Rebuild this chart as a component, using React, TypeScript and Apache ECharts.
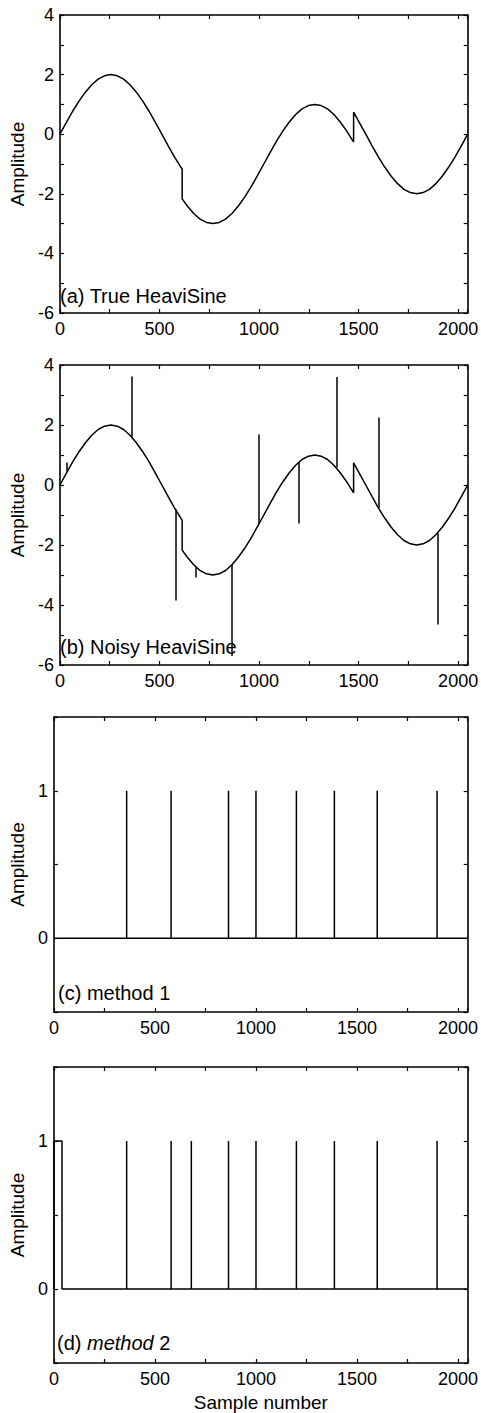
import React, { useEffect, useRef } from "react";
import * as echarts from "echarts";

// ---- data ----
const X_MAX = 2048;
const xTickLabels = [0, 500, 1000, 1500, 2000];
const heaviSineSamples = [
  0, 32, 64, 96, 128, 160, 192, 224, 256, 288, 320, 352, 384, 416, 448, 480, 512, 544, 576, 608,
  614, 614, 640, 672, 704, 736, 768, 800, 832, 864, 896, 928, 960, 992, 1024, 1056, 1088, 1120,
  1152, 1184, 1216, 1248, 1280, 1312, 1344, 1376, 1408, 1440, 1472, 1475, 1475, 1504, 1536, 1568,
  1600, 1632, 1664, 1696, 1728, 1760, 1792, 1824, 1856, 1888, 1920, 1952, 1984, 2016, 2048,
];
const heaviSineValues = [
  0, 0.39, 0.77, 1.11, 1.41, 1.66, 1.85, 1.96, 2.0, 1.96, 1.85, 1.66, 1.41, 1.11, 0.77, 0.39, 0,
  -0.39, -0.77, -1.11, -1.17, -2.17, -2.41, -2.66, -2.85, -2.96, -3.0, -2.96, -2.85, -2.66, -2.41,
  -2.11, -1.77, -1.39, -1.0, -0.61, -0.23, 0.11, 0.41, 0.66, 0.85, 0.96, 1.0, 0.96, 0.85, 0.66,
  0.41, 0.11, -0.23, -0.26, 0.74, 0.39, 0, -0.39, -0.77, -1.11, -1.41, -1.66, -1.85, -1.96, -2.0,
  -1.96, -1.85, -1.66, -1.41, -1.11, -0.77, -0.39, 0,
];
const noiseSamples = [36, 360, 580, 680, 864, 1000, 1200, 1388, 1600, 1896];
const noiseBase = [0.44, 1.61, -0.81, -2.71, -2.66, -1.29, 0.76, 0.58, -0.77, -1.61];
const noiseTip = [0.75, 3.62, -3.85, -3.08, -5.7, 1.68, -1.28, 3.6, 2.25, -4.65];
const method1Spans: [number, number][] = [
  [360, 360], [580, 580], [864, 864], [1000, 1000], [1200, 1200], [1388, 1388], [1600, 1600], [1896, 1896],
];
const method2Spans: [number, number][] = [
  [0, 40], [360, 360], [580, 580], [680, 680], [864, 864], [1000, 1000], [1200, 1200], [1388, 1388], [1600, 1600], [1896, 1896],
];
const panelLabels = ["(a) True HeaviSine", "(b) Noisy HeaviSine", "(c) method 1", "(d) {i|method} 2"];

const FONT = '"Liberation Sans", Arial, Helvetica, sans-serif';
const BLACK = "#000";

const grids = [
  { left: 53, top: 15, width: 417, height: 298 },
  { left: 53, top: 365, width: 417, height: 300 },
  { left: 51, top: 717, width: 419, height: 295 },
  { left: 50, top: 1067, width: 418, height: 296 },
];
const labelTops = [286, 637, 983, 1333];
const nameGaps = [28, 28, 18, 21];

function App() {
  const ref = useRef<HTMLDivElement>(null);
  useEffect(() => {
    if (!ref.current) return;
    const chart = echarts.init(ref.current, null, { renderer: "svg" });

    const curve = heaviSineSamples.map((x, i) => [x, heaviSineValues[i]]);
    const spikes = noiseSamples.map((x, i) => ({ coords: [[x, noiseBase[i]], [x, noiseTip[i]]] }));
    const stepData = (spans: [number, number][]) => {
      const d: number[][] = [[0, 0]];
      spans.forEach(([a, b]) => {
        d.push([a, 0], [a, 1], [b, 1], [b, 0]);
      });
      d.push([X_MAX, 0]);
      return d;
    };

    const axisLine = { onZero: false, lineStyle: { color: BLACK, width: 1.6 } };
    const axisTick = { inside: true, length: 4, lineStyle: { color: BLACK, width: 1.2 } };
    const labelStyle = { color: BLACK, fontFamily: FONT, fontSize: 18 };

    const xAxis: any[] = [];
    const yAxis: any[] = [];
    grids.forEach((_, g) => {
      const base = { type: "value", gridIndex: g, min: 0, max: X_MAX, interval: 250, axisLine, axisTick, splitLine: { show: false } };
      xAxis.push({
        ...base,
        position: "bottom",
        axisLabel: {
          ...labelStyle,
          margin: 7,
          formatter: (v: number) => (xTickLabels.includes(v) ? String(v) : ""),
        },
        ...(g === 3
          ? { name: "Sample number", nameLocation: "middle", nameGap: 30, nameTextStyle: { color: BLACK, fontFamily: FONT, fontSize: 19 } }
          : {}),
      });
      xAxis.push({ ...base, position: "top", axisLabel: { show: false } });
      const yb =
        g < 2
          ? { min: -6, max: 4, interval: 1, fmt: (v: number) => (v % 2 === 0 ? String(v) : "") }
          : { min: -0.5, max: 1.5, interval: 0.5, fmt: (v: number) => (v === 0 || v === 1 ? String(v) : "") };
      const ybase = { type: "value", gridIndex: g, min: yb.min, max: yb.max, interval: yb.interval, axisLine, axisTick, splitLine: { show: false } };
      yAxis.push({
        ...ybase,
        position: "left",
        axisLabel: { ...labelStyle, margin: 6, formatter: yb.fmt },
        name: "Amplitude",
        nameLocation: "middle",
        nameGap: nameGaps[g],
        nameTextStyle: { color: BLACK, fontFamily: FONT, fontSize: 19 },
      });
      yAxis.push({ ...ybase, position: "right", axisLabel: { show: false } });
    });

    const lineStyle = { color: BLACK, width: 1.5 };
    const series: any[] = [
      { type: "line", xAxisIndex: 0, yAxisIndex: 0, data: curve, symbol: "none", lineStyle },
      { type: "line", xAxisIndex: 2, yAxisIndex: 2, data: curve, symbol: "none", lineStyle },
      { type: "lines", coordinateSystem: "cartesian2d", xAxisIndex: 2, yAxisIndex: 2, data: spikes, lineStyle: { color: BLACK, width: 1.5, opacity: 1 } },
      { type: "line", xAxisIndex: 4, yAxisIndex: 4, data: stepData(method1Spans), symbol: "none", lineStyle },
      { type: "line", xAxisIndex: 6, yAxisIndex: 6, data: stepData(method2Spans), symbol: "none", lineStyle },
    ];

    const graphic = panelLabels.map((t, i) => ({
      type: "text",
      left: grids[i].left + 7,
      top: labelTops[i],
      silent: true,
      style: {
        text: t,
        fill: BLACK,
        font: `20px ${FONT}`,
        rich: { i: { fontStyle: "italic", fontSize: 20, fontFamily: FONT, fill: BLACK } },
      },
    }));

    chart.setOption({
      animation: false,
      backgroundColor: "#fff",
      grid: grids,
      xAxis,
      yAxis,
      series,
      graphic,
    });
    return () => chart.dispose();
  }, []);

  return (
    <div
      ref={ref}
      style={{ position: "absolute", left: 0, top: 0, width: 481, height: 1413, background: "#fff" }}
    />
  );
}

export default App;
